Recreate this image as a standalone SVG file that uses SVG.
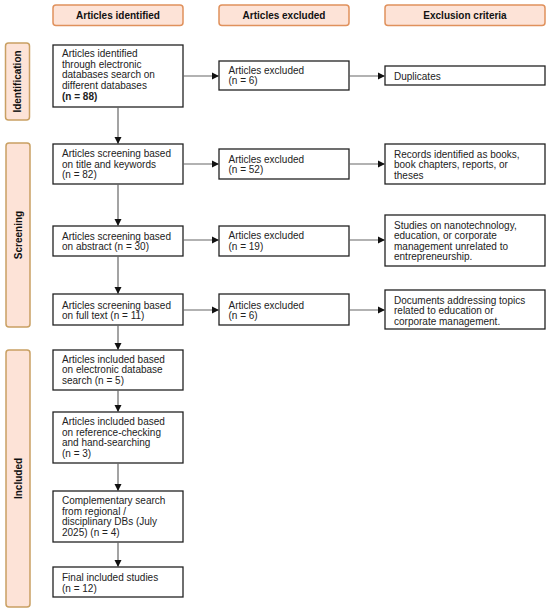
<svg xmlns="http://www.w3.org/2000/svg" width="550" height="612" viewBox="0 0 550 612">
<defs>
<style>
.hdr{fill:#fde3d7;stroke:#e0915c;stroke-width:1.5}
.side{fill:#fde3d7;stroke:#c9a063;stroke-width:1.5}
.box{fill:#fff;stroke:#222;stroke-width:1.3}
.t{font-family:"Liberation Sans",Arial,sans-serif;font-size:10px;fill:#222}
.h{font-family:"Liberation Sans",Arial,sans-serif;font-size:10px;font-weight:bold;fill:#111;text-anchor:middle}
.c{stroke:#666;stroke-width:1.2;fill:none;marker-end:url(#ah)}
</style>
<marker id="ah" markerWidth="8" markerHeight="8" refX="7" refY="4" orient="auto" markerUnits="userSpaceOnUse">
<path d="M0,0.5 L7,4 L0,7.5 Z" fill="#111"/>
</marker>
</defs>
<rect width="550" height="612" fill="#fff"/>

<g id="hdr-identified"><rect class="hdr" x="53" y="5" width="130" height="20.5" rx="3"/><text class="h" x="118" y="18.5">Articles identified</text></g>
<g id="hdr-excluded"><rect class="hdr" x="219" y="5" width="130" height="20.5" rx="3"/><text class="h" x="284" y="18.5">Articles excluded</text></g>
<g id="hdr-criteria"><rect class="hdr" x="385" y="5" width="160" height="20.5" rx="3"/><text class="h" x="465" y="18.5">Exclusion criteria</text></g>

<g id="side-identification"><rect class="side" x="5.5" y="43" width="24" height="77" rx="3"/><text class="h" transform="translate(21,81.5) rotate(-90)">Identification</text></g>
<g id="side-screening"><rect class="side" x="6" y="143" width="24" height="184" rx="3"/><text class="h" transform="translate(21.5,235) rotate(-90)">Screening</text></g>
<g id="side-included"><rect class="side" x="6" y="350" width="24" height="257" rx="3"/><text class="h" transform="translate(21.5,478.5) rotate(-90)">Included</text></g>

<g id="b1"><rect class="box" x="53" y="45" width="130" height="62"/><text class="t"><tspan x="62" y="57">Articles identified</tspan><tspan x="62" y="67.7">through electronic</tspan><tspan x="62" y="78.4">databases search on</tspan><tspan x="62" y="89">different databases</tspan><tspan x="62" y="99.7" font-weight="bold">(n = 88)</tspan></text></g>
<g id="b2"><rect class="box" x="53" y="144" width="130" height="40"/><text class="t"><tspan x="62" y="157">Articles screening based</tspan><tspan x="62" y="167.5">on title and keywords</tspan><tspan x="62" y="178">(n = 82)</tspan></text></g>
<g id="b3"><rect class="box" x="53" y="226" width="130" height="30"/><text class="t"><tspan x="62" y="239.5">Articles screening based</tspan><tspan x="62" y="250">on abstract (n = 30)</tspan></text></g>
<g id="b4"><rect class="box" x="53" y="294" width="130" height="31"/><text class="t"><tspan x="62" y="308.5">Articles screening based</tspan><tspan x="62" y="319">on full text (n = 11)</tspan></text></g>
<g id="b5"><rect class="box" x="53" y="350" width="130" height="40"/><text class="t"><tspan x="62" y="362.5">Articles included based</tspan><tspan x="62" y="373">on electronic database</tspan><tspan x="62" y="383.5">search (n = 5)</tspan></text></g>
<g id="b6"><rect class="box" x="53" y="412" width="130" height="51"/><text class="t"><tspan x="62" y="425">Articles included based</tspan><tspan x="62" y="435.7">on reference-checking</tspan><tspan x="62" y="446.4">and hand-searching</tspan><tspan x="62" y="457">(n = 3)</tspan></text></g>
<g id="b7"><rect class="box" x="53" y="491" width="130" height="51"/><text class="t"><tspan x="62" y="504">Complementary search</tspan><tspan x="62" y="514.7">from regional /</tspan><tspan x="62" y="525.4">disciplinary DBs (July</tspan><tspan x="62" y="536">2025) (n = 4)</tspan></text></g>
<g id="b8"><rect class="box" x="53" y="567" width="130" height="30"/><text class="t"><tspan x="62" y="581">Final included studies</tspan><tspan x="62" y="591.5">(n = 12)</tspan></text></g>

<g id="e1"><rect class="box" x="219" y="61" width="130" height="29"/><text class="t"><tspan x="228.5" y="73.5">Articles excluded</tspan><tspan x="228.5" y="84">(n = 6)</tspan></text></g>
<g id="e2"><rect class="box" x="219" y="149" width="130" height="30"/><text class="t"><tspan x="228.5" y="162.8">Articles excluded</tspan><tspan x="228.5" y="173.3">(n = 52)</tspan></text></g>
<g id="e3"><rect class="box" x="219" y="226" width="130" height="30"/><text class="t"><tspan x="228.5" y="239">Articles excluded</tspan><tspan x="228.5" y="249.5">(n = 19)</tspan></text></g>
<g id="e4"><rect class="box" x="219" y="294" width="130" height="31"/><text class="t"><tspan x="228.5" y="308.5">Articles excluded</tspan><tspan x="228.5" y="319">(n = 6)</tspan></text></g>

<g id="c1"><rect class="box" x="385" y="66" width="160" height="19"/><text class="t"><tspan x="394" y="79.5">Duplicates</tspan></text></g>
<g id="c2"><rect class="box" x="385" y="144" width="160" height="40"/><text class="t"><tspan x="394" y="157.5">Records identified as books,</tspan><tspan x="394" y="168">book chapters, reports, or</tspan><tspan x="394" y="178.5">theses</tspan></text></g>
<g id="c3"><rect class="box" x="385" y="215" width="160" height="51"/><text class="t"><tspan x="394" y="228.5">Studies on nanotechnology,</tspan><tspan x="394" y="239">education, or corporate</tspan><tspan x="394" y="249.5">management unrelated to</tspan><tspan x="394" y="260">entrepreneurship.</tspan></text></g>
<g id="c4"><rect class="box" x="385" y="290" width="160" height="39"/><text class="t"><tspan x="394" y="303.5">Documents addressing topics</tspan><tspan x="394" y="314">related to education or</tspan><tspan x="394" y="324.5">corporate management.</tspan></text></g>

<g id="connectors">
<line class="c" x1="118" y1="107" x2="118" y2="144"/>
<line class="c" x1="118" y1="184" x2="118" y2="226"/>
<line class="c" x1="118" y1="256" x2="118" y2="294"/>
<line class="c" x1="118" y1="325" x2="118" y2="350"/>
<line class="c" x1="118" y1="390" x2="118" y2="412"/>
<line class="c" x1="118" y1="463" x2="118" y2="491"/>
<line class="c" x1="118" y1="542" x2="118" y2="567"/>
<line class="c" x1="183" y1="76" x2="219" y2="76"/>
<line class="c" x1="183" y1="164" x2="219" y2="164"/>
<line class="c" x1="183" y1="240" x2="219" y2="240"/>
<line class="c" x1="183" y1="310" x2="219" y2="310"/>
<line class="c" x1="349" y1="76" x2="385" y2="76"/>
<line class="c" x1="349" y1="164" x2="385" y2="164"/>
<line class="c" x1="349" y1="240" x2="385" y2="240"/>
<line class="c" x1="349" y1="310" x2="385" y2="310"/>
</g>
</svg>
